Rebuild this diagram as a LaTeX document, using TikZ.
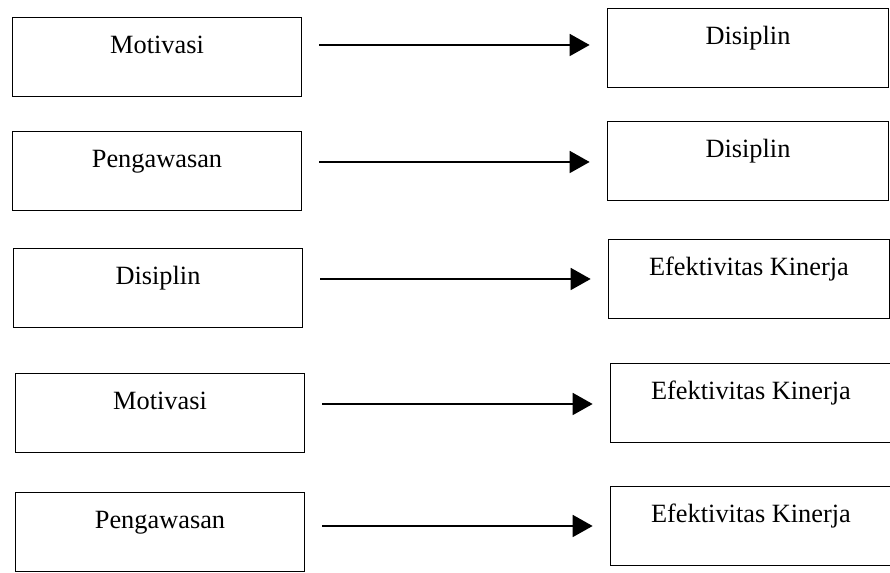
\documentclass[tikz,border=0pt]{standalone}
\usepackage{fontspec}
\setmainfont{Liberation Serif}
\usepackage{tikz}
\usetikzlibrary{
    arrows.meta,
    positioning
}

\begin{document}
\begin{tikzpicture}[
    x=0.02cm, y=-0.02cm,
    box/.style={
        rectangle, draw, line width=1pt,
        minimum width=5.78cm, inner sep=0pt,
        text height=0.73cm, text depth=0.85cm,
        align=center, font=\fontsize{15}{18}\selectfont
    },
    rbox/.style={box, minimum width=5.62cm},
    arrow/.style={-{Triangle[length=0.4cm, width=0.44cm]}, line width=1pt,
        shorten <=0.34cm, shorten >=0.34cm}
]
\useasboundingbox (0,0) rectangle (890,573);

% Left column
\node[box] (mot1) at (157, 57) {Motivasi};
\node[box] (peng1) at (157, 171) {Pengawasan};
\node[box] (dis3) at (158, 288) {Disiplin};
\node[box] (mot4) at (160, 413) {Motivasi};
\node[box] (peng5) at (160, 532) {Pengawasan};

% Right column
\node[rbox] (dis1) at (748, 48) {Disiplin};
\node[rbox] (dis2) at (748, 161) {Disiplin};
\node[rbox] (efk3) at (749, 279) {Efektivitas Kinerja};
\node[rbox] (efk4) at (751, 403) {Efektivitas Kinerja};
\node[rbox] (efk5) at (751, 526) {Efektivitas Kinerja};

% Arrows (horizontal, just below the right text baseline)
\draw[arrow] (mot1.east |- dis1.base) -- (dis1.base west);
\draw[arrow] ([yshift=-0.08cm]peng1.east |- dis2.base) -- ([yshift=-0.08cm]dis2.base west);
\draw[arrow] ([yshift=-0.06cm]dis3.east |- efk3.base) -- ([yshift=-0.06cm]efk3.base west);
\draw[arrow] ([yshift=-0.08cm]mot4.east |- efk4.base) -- ([yshift=-0.08cm]efk4.base west);
\draw[arrow] ([yshift=-0.06cm]peng5.east |- efk5.base) -- ([yshift=-0.06cm]efk5.base west);

\end{tikzpicture}
\end{document}
